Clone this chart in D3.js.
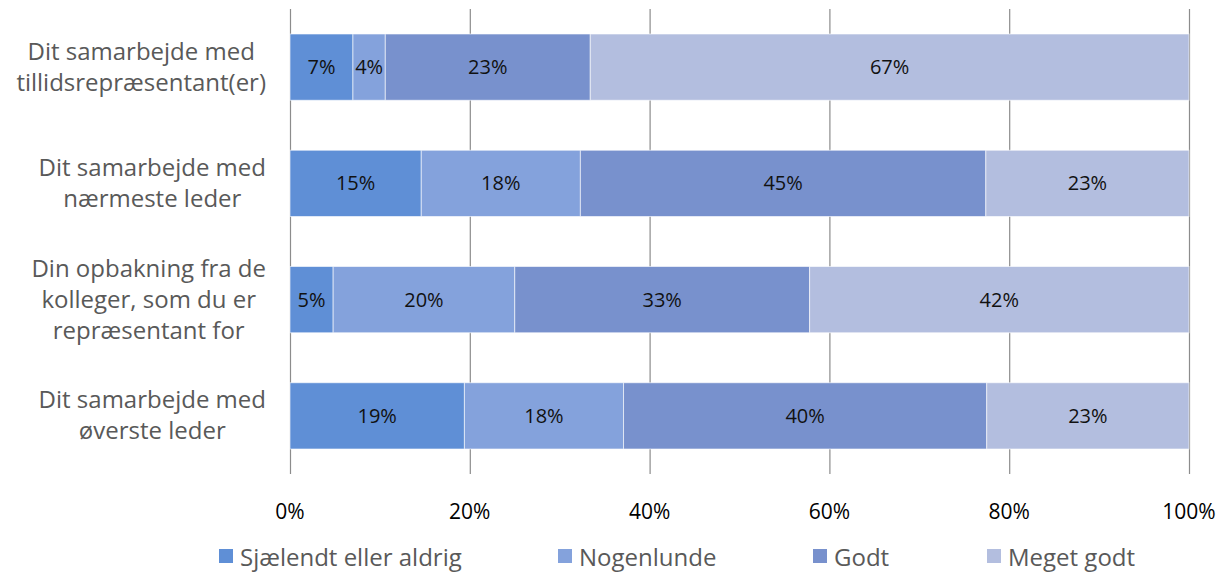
<!DOCTYPE html>
<html><head><meta charset="utf-8">
<script src="https://cdn.jsdelivr.net/npm/d3@7"></script>
<style>body{margin:0;background:#fff;} text{font-family:"Open Sans",sans-serif;}</style>
</head><body>
<svg id="c" width="1225" height="573"></svg>
<script>
const categories = [
  ["Dit samarbejde med","tillidsrepræsentant(er)"],
  ["Dit samarbejde med","nærmeste leder"],
  ["Din opbakning fra de","kolleger, som du er","repræsentant for"],
  ["Dit samarbejde med","øverste leder"]
];
const seriesNames = ["Sjælendt eller aldrig","Nogenlunde","Godt","Meget godt"];
const seriesColors = ["#5f8fd6","#84a2dc","#7891cd","#b3bedf"];
const sjaelendt = [7.0, 14.6, 4.8, 19.4];
const nogenlunde = [3.6, 17.7, 20.2, 17.7];
const godt = [22.8, 45.1, 32.8, 40.4];
const megetGodt = [66.6, 22.6, 42.2, 22.5];
const seriesValues = [sjaelendt, nogenlunde, godt, megetGodt];
const labels = [["7%","15%","5%","19%"],["4%","18%","20%","18%"],["23%","45%","33%","40%"],["67%","23%","42%","23%"]];
const tickValues = [0,20,40,60,80,100];

const svg = d3.select("#c");
const x = d3.scaleLinear().domain([0,100]).range([290,1189]);
const y = d3.scaleBand().domain(d3.range(categories.length)).range([9,474]).paddingInner(0.43).paddingOuter(0.215);

// gridlines
svg.append("g").selectAll("line").data(tickValues).join("line")
  .attr("x1",d=>x(d)+0.5).attr("x2",d=>x(d)+0.5).attr("y1",9).attr("y2",474)
  .attr("stroke","#8c8c8c").attr("stroke-width",1.2);

// tick labels
svg.append("g").selectAll("text").data(tickValues).join("text")
  .attr("x",d=>x(d)).attr("y",519).attr("text-anchor","middle")
  .attr("font-size",21).attr("fill","#000").text(d=>d+"%");

// bars
categories.forEach((c,i)=>{
  let cum=0;
  seriesValues.forEach((s,j)=>{
    const v=s[i], x0=x(cum), x1=x(cum+v);
    svg.append("rect").attr("x",x0).attr("y",y(i)).attr("width",x1-x0).attr("height",y.bandwidth())
      .attr("fill",seriesColors[j]).attr("stroke","#ffffff").attr("stroke-width",1).attr("stroke-opacity",0.6);
    svg.append("text").attr("x",(x0+x1)/2).attr("y",y(i)+y.bandwidth()/2+7).attr("text-anchor","middle")
      .attr("font-size",20).attr("fill","#111").text(labels[j][i]);
    cum+=v;
  });
});

// category labels
categories.forEach((lines,i)=>{
  const g = svg.append("g");
  const lh = 31;
  const cy = y(i)+y.bandwidth()/2;
  const t0 = cy - (lines.length-1)*lh/2 + 8;
  const texts = lines.map((l,k)=>g.append("text").attr("y",t0+k*lh).attr("font-size",24).attr("fill","#595959").attr("text-anchor","middle").text(l));
  const w = d3.max(texts, t=>t.node().getComputedTextLength());
  texts.forEach(t=>t.attr("x",266-w/2));
});

// legend
const legX = [219,558,813,987];
seriesNames.forEach((n,j)=>{
  svg.append("rect").attr("x",legX[j]).attr("y",549).attr("width",14).attr("height",14).attr("fill",seriesColors[j]);
  svg.append("text").attr("x",legX[j]+21).attr("y",566).attr("font-size",24).attr("fill","#595959").text(n);
});
</script>
</body></html>
